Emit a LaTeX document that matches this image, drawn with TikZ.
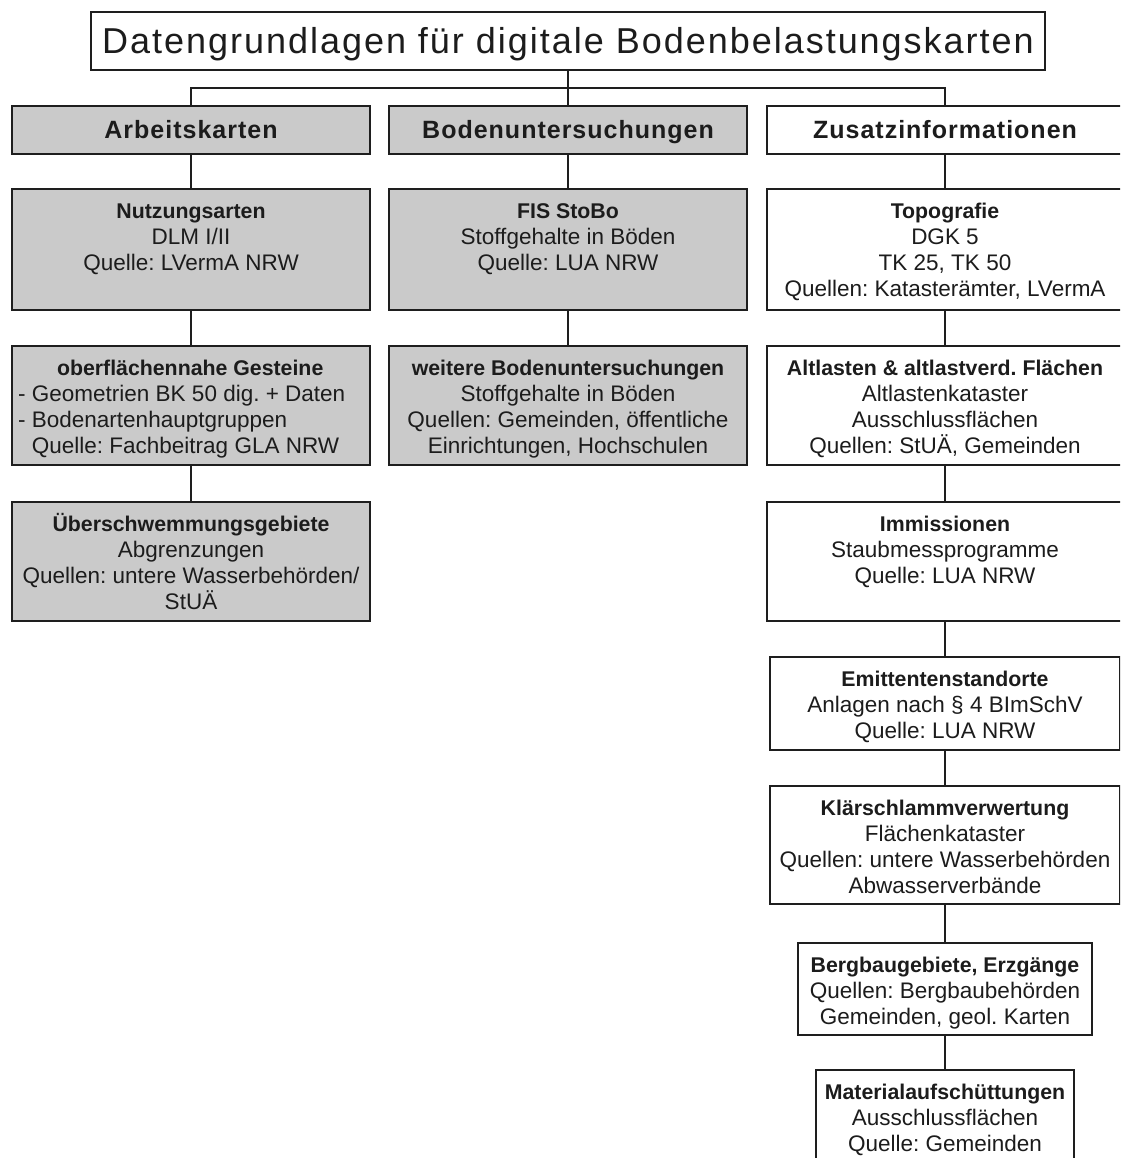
\documentclass[tikz,border=0pt]{standalone}
\usepackage{fontspec}
\setmainfont{Liberation Sans}
\newfontfamily\titlefont[LetterSpace=5.5]{Liberation Sans}
\newfontfamily\headfont[LetterSpace=4]{Liberation Sans}
\newcommand\myfs[2]{\fontsize{#1}{#2}\selectfont}
\newcommand\bt[1]{{\myfs{21.3}{26}\bfseries #1}}
\definecolor{lc}{RGB}{30,30,30}
\definecolor{boxgray}{RGB}{202,202,202}
\definecolor{tc}{RGB}{28,28,28}
\tikzset{
  frame/.style={draw=lc, line width=1.8pt, inner sep=0pt, outer sep=0pt, anchor=north west},
  gbox/.style={frame, fill=boxgray},
  wbox/.style={frame, fill=white},
  hdr/.style={font=\headfont\bfseries\myfs{25}{30}, text=tc, text height=18pt, text depth=0pt},
  txt/.style={anchor=north, align=center, inner sep=0pt, text=tc, font=\frenchspacing\myfs{22.5}{26}},
  conn/.style={draw=lc, line width=1.8pt},
}
\begin{document}
\frenchspacing
\begin{tikzpicture}[x=1pt,y=-1pt]
\useasboundingbox (0,0) rectangle (1120,1158);
\clip (0,0) rectangle (1120,1158);
\fill[white] (0,0) rectangle (1120,1158);

% title
\node[wbox, anchor=center, minimum width=954pt, minimum height=58pt,
      font=\titlefont\myfs{36}{40}, text=tc, text height=26pt, text depth=0pt]
      (title) at (568,41) {Datengrundlagen für digitale Bodenbelastungskarten};

% column headers
\node[gbox, hdr, minimum width=358pt, minimum height=48pt] (ark) at (12,106) {Arbeitskarten};
\node[gbox, hdr, minimum width=358pt, minimum height=48pt] (bod) at (389,106) {Bodenuntersuchungen};
\node[wbox, hdr, minimum width=356pt, minimum height=48pt] (zus) at (767,106) {Zusatzinformationen};

% left column
\node[gbox, minimum width=358pt, minimum height=121pt] (nutz) at (12,189) {};
\node[txt] (nutzT) at (191,200) {\strut\bt{Nutzungsarten}\\DLM I/II\\Quelle: LVermA NRW};

\node[gbox, minimum width=358pt, minimum height=119pt] (ober) at (12,346) {};
\node[txt, anchor=north west, align=left] (oberT) at (18,357)
  {\strut\makebox[344pt]{\bt{oberflächennahe Gesteine}}\\- Geometrien BK 50 dig. + Daten\\- Bodenartenhauptgruppen\\\phantom{- }Quelle: Fachbeitrag GLA NRW};

\node[gbox, minimum width=358pt, minimum height=119pt] (ueber) at (12,502) {};
\node[txt] (ueberT) at (191,513) {\strut\bt{Überschwemmungsgebiete}\\Abgrenzungen\\Quellen: untere Wasserbehörden/\\StUÄ};

% middle column
\node[gbox, minimum width=358pt, minimum height=121pt] (fis) at (389,189) {};
\node[txt] (fisT) at (568,200) {\strut\bt{FIS StoBo}\\Stoffgehalte in Böden\\Quelle: LUA NRW};

\node[gbox, minimum width=358pt, minimum height=119pt] (weit) at (389,346) {};
\node[txt] (weitT) at (568,357) {\strut\bt{weitere Bodenuntersuchungen}\\Stoffgehalte in Böden\\Quellen: Gemeinden, öffentliche\\Einrichtungen, Hochschulen};

% right column
\node[wbox, minimum width=356pt, minimum height=121pt] (topo) at (767,189) {};
\node[txt] (topoT) at (945,200) {\strut\bt{Topografie}\\DGK 5\\TK 25, TK 50\\Quellen: Katasterämter, LVermA};

\node[wbox, minimum width=356pt, minimum height=119pt] (alt) at (767,346) {};
\node[txt] (altT) at (945,357) {\strut\bt{Altlasten \& altlastverd. Flächen}\\Altlastenkataster\\Ausschlussflächen\\Quellen: StUÄ, Gemeinden};

\node[wbox, minimum width=356pt, minimum height=119pt] (imm) at (767,502) {};
\node[txt] (immT) at (945,513) {\strut\bt{Immissionen}\\Staubmessprogramme\\Quelle: LUA NRW};

\node[wbox, minimum width=350pt, minimum height=93pt] (emi) at (770,657) {};
\node[txt] (emiT) at (945,668) {\strut\bt{Emittentenstandorte}\\Anlagen nach § 4 BImSchV\\Quelle: LUA NRW};

\node[wbox, minimum width=350pt, minimum height=118pt] (klae) at (770,786) {};
\node[txt] (klaeT) at (945,797) {\strut\bt{Klärschlammverwertung}\\Flächenkataster\\Quellen: untere Wasserbehörden\\Abwasserverbände};

\node[wbox, minimum width=294pt, minimum height=92pt] (berg) at (798,943) {};
\node[txt] (bergT) at (945,954) {\strut\bt{Bergbaugebiete, Erzgänge}\\Quellen: Bergbaubehörden\\Gemeinden, geol. Karten};

\node[wbox, minimum width=258pt, minimum height=110pt] (mat) at (816,1070) {};
\node[txt] (matT) at (945,1081) {\strut\bt{Materialaufschüttungen}\\Ausschlussflächen\\Quelle: Gemeinden};

% connectors
\draw[conn] (title.south) -- (bod.north);
\draw[conn] (ark.north) -- ++(0,-18) -| (zus.north);
\draw[conn] (ark.south) -- (nutz.north);
\draw[conn] (nutz.south) -- (ober.north);
\draw[conn] (ober.south) -- (ueber.north);
\draw[conn] (bod.south) -- (fis.north);
\draw[conn] (fis.south) -- (weit.north);
\draw[conn] (zus.south) -- (topo.north);
\draw[conn] (topo.south) -- (alt.north);
\draw[conn] (alt.south) -- (imm.north);
\draw[conn] (imm.south) -- (emi.north);
\draw[conn] (emi.south) -- (klae.north);
\draw[conn] (klae.south) -- (berg.north);
\draw[conn] (berg.south) -- (mat.north);
\end{tikzpicture}
\end{document}
